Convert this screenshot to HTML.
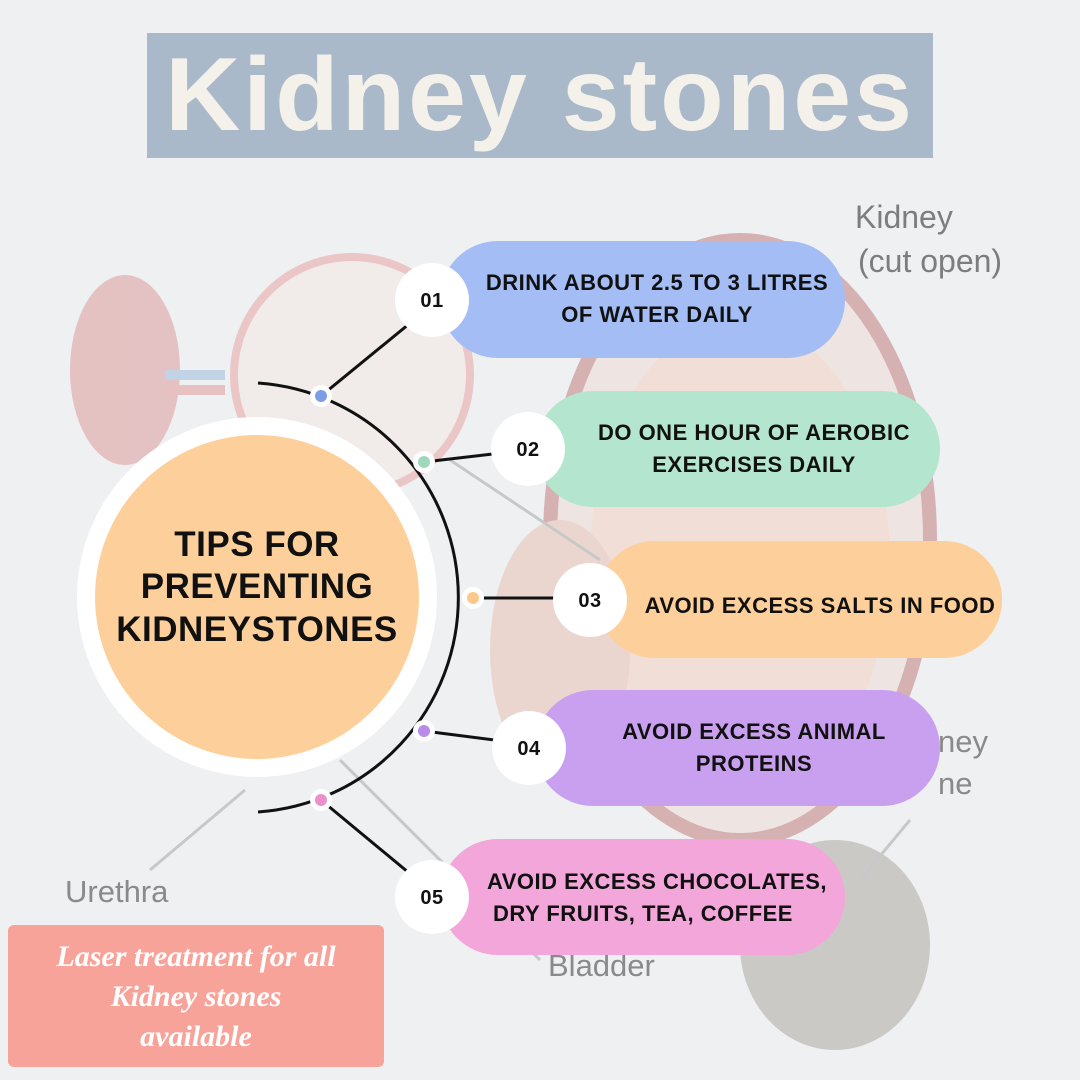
<!DOCTYPE html>
<html><head><style>
body{margin:0;width:1080px;height:1080px;overflow:hidden;background:#eef0f1;font-family:"Liberation Sans",sans-serif}
svg{position:absolute;left:0;top:0}
.t{font-family:"Liberation Sans",sans-serif;font-weight:bold;font-size:22px;fill:#111;text-anchor:middle;letter-spacing:0.5px}
</style></head><body>
<svg width="1080" height="1080" viewBox="0 0 1080 1080">
<g opacity="0.45">
<ellipse cx="125" cy="370" rx="55" ry="95" fill="#d98a8a"/>
<rect x="165" y="370" width="60" height="10" fill="#8fb0d8"/>
<rect x="165" y="385" width="60" height="10" fill="#e08a8a"/>
<circle cx="352" cy="375" r="118" fill="#f6e6e0" stroke="#e99494" stroke-width="8"/>
<ellipse cx="740" cy="540" rx="190" ry="300" fill="#f0d8d0" stroke="#b66" stroke-width="14"/>
<ellipse cx="740" cy="560" rx="150" ry="240" fill="#f3c9b9"/>
<ellipse cx="560" cy="650" rx="70" ry="130" fill="#e8b8a8"/>
<ellipse cx="835" cy="945" rx="95" ry="105" fill="#a09a92"/>
<line x1="245" y1="790" x2="150" y2="870" stroke="#999" stroke-width="3"/>
<line x1="910" y1="820" x2="860" y2="880" stroke="#999" stroke-width="3"/>
<line x1="340" y1="760" x2="540" y2="960" stroke="#999" stroke-width="3"/>
<line x1="450" y1="460" x2="600" y2="560" stroke="#999" stroke-width="3"/>
</g>
<text x="855" y="228" font-size="32" fill="#7d7d7d" font-family="Liberation Sans">Kidney</text>
<text x="858" y="272" font-size="32" fill="#7d7d7d" font-family="Liberation Sans">(cut open)</text>
<text x="65" y="902" font-size="31" fill="#8a8a8a" font-family="Liberation Sans">Urethra</text>
<text x="548" y="976" font-size="31" fill="#8a8a8a" font-family="Liberation Sans">Bladder</text>
<text x="938" y="752" font-size="31" fill="#8a8a8a" font-family="Liberation Sans">ney</text>
<text x="938" y="794" font-size="31" fill="#8a8a8a" font-family="Liberation Sans">ne</text>
<rect x="147" y="33" width="786" height="125" fill="#a9b9c9"/>
<text x="540" y="130" font-size="104" font-weight="bold" fill="#f4f0ea" text-anchor="middle" letter-spacing="3" font-family="Liberation Sans">Kidney stones</text>
<rect x="8" y="925" width="376" height="142" rx="6" fill="#f7a39a"/>
<g font-family="Liberation Serif" font-style="italic" font-weight="bold" font-size="30" fill="#fff" text-anchor="middle">
<text x="196" y="966">Laser treatment for all</text>
<text x="196" y="1006">Kidney stones</text>
<text x="196" y="1046">available</text></g>
<path d="M258 383 A215 215 0 0 1 258 812" fill="none" stroke="#111" stroke-width="3"/>
<g stroke="#111" stroke-width="3">
<line x1="321" y1="396" x2="420" y2="315"/>
<line x1="424" y1="462" x2="510" y2="452"/>
<line x1="473" y1="598" x2="570" y2="598"/>
<line x1="424" y1="731" x2="510" y2="742"/>
<line x1="321" y1="800" x2="420" y2="882"/>
</g>
<rect x="440" y="241" width="405" height="117" rx="58" fill="#a4bdf5"/>
<rect x="535" y="391" width="405" height="116" rx="58" fill="#b4e6cf"/>
<rect x="597" y="541" width="405" height="117" rx="58" fill="#fdd09b"/>
<rect x="535" y="690" width="405" height="116" rx="58" fill="#c9a0ef"/>
<rect x="440" y="839" width="405" height="116" rx="58" fill="#f2a6da"/>
<g fill="#fff"><circle cx="432" cy="300" r="37"/><circle cx="528" cy="449" r="37"/><circle cx="590" cy="600" r="37"/><circle cx="529" cy="748" r="37"/><circle cx="432" cy="897" r="37"/></g>
<text class="t" x="432" y="307" style="font-size:20px">01</text><text class="t" x="528" y="456" style="font-size:20px">02</text><text class="t" x="590" y="607" style="font-size:20px">03</text><text class="t" x="529" y="755" style="font-size:20px">04</text><text class="t" x="432" y="904" style="font-size:20px">05</text>
<text class="t" x="657" y="290">DRINK ABOUT 2.5 TO 3 LITRES</text>
<text class="t" x="657" y="322">OF WATER DAILY</text>
<text class="t" x="754" y="440">DO ONE HOUR OF AEROBIC</text>
<text class="t" x="754" y="472">EXERCISES DAILY</text>
<text class="t" x="820" y="613">AVOID EXCESS SALTS IN FOOD</text>
<text class="t" x="754" y="739">AVOID EXCESS ANIMAL</text>
<text class="t" x="754" y="771">PROTEINS</text>
<text class="t" x="657" y="889">AVOID EXCESS CHOCOLATES,</text>
<text class="t" x="643" y="921">DRY FRUITS, TEA, COFFEE</text>
<g fill="#fff"><circle cx="321" cy="396" r="11"/><circle cx="424" cy="462" r="11"/><circle cx="473" cy="598" r="11"/><circle cx="424" cy="731" r="11"/><circle cx="321" cy="800" r="11"/></g>
<circle cx="321" cy="396" r="6" fill="#7c9ee8"/><circle cx="424" cy="462" r="6" fill="#9fd9bd"/><circle cx="473" cy="598" r="6" fill="#fcc88b"/><circle cx="424" cy="731" r="6" fill="#b98be8"/><circle cx="321" cy="800" r="6" fill="#ec8fcc"/>
<circle cx="257" cy="597" r="180" fill="#fff"/>
<circle cx="257" cy="597" r="162" fill="#fdd09b"/>
<g font-family="Liberation Sans" font-weight="bold" font-size="35" fill="#111" text-anchor="middle" letter-spacing="0.5">
<text x="257" y="556">TIPS FOR</text><text x="257" y="598">PREVENTING</text><text x="257" y="641">KIDNEYSTONES</text></g>
</svg>
</body></html>
